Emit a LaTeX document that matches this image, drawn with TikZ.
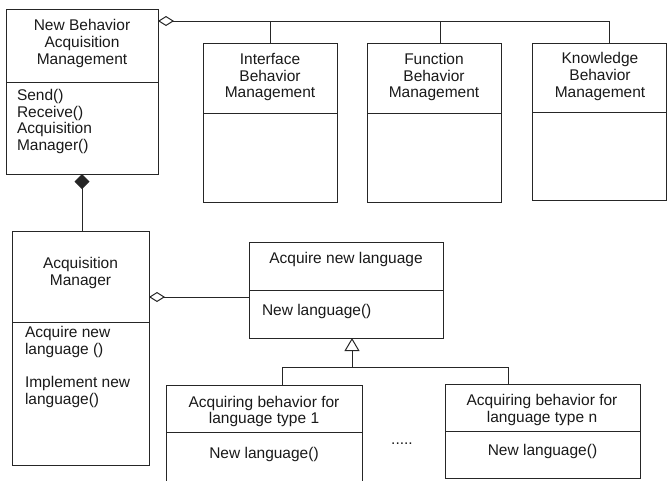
\documentclass[tikz,border=0pt]{standalone}
\usepackage{fontspec}
\setmainfont{Liberation Sans}
\usetikzlibrary{arrows.meta}

\begin{document}
\begin{tikzpicture}[x=1pt, y=-1pt,
  cls/.style={draw=black!85, line width=1pt, inner sep=0pt, outer sep=0pt},
  txt/.style={inner sep=0pt, outer sep=0pt, font=\fontsize{15.5}{16.7}\selectfont, text=black!90},
  wire/.style={draw=black!85, line width=1pt},
  aggr/.style={wire, {Diamond[open, length=16pt, width=10pt, line width=1pt]}-},
  comp/.style={wire, {Diamond[length=15pt, width=15pt]}-},
  gen/.style={wire, -{Triangle[open, length=13pt, width=15pt, line width=1pt]}}]

\clip (0,0) rectangle (667,480);

% New Behavior Acquisition Management
\node[cls, minimum width=152pt, minimum height=73pt] (nbT) at (82,45.5) {};
\node[cls, minimum width=152pt, minimum height=92pt, anchor=north] (nbB) at (nbT.south) {};
\node[txt, align=center] (nbTx) at (82,43.6) {New Behavior\\Acquisition\\Management};
\node[txt, align=left, anchor=north west] (nbBx) at (17,89.3) {Send()\\Receive()\\Acquisition\\Manager()};

% Interface / Function / Knowledge behavior management
\node[cls, minimum width=134pt, minimum height=70pt] (ibT) at (270,78) {};
\node[cls, minimum width=134pt, minimum height=89pt, anchor=north] (ibB) at (ibT.south) {};
\node[txt, align=center] (ibTx) at (270,77.1) {Interface\\Behavior\\Management};

\node[cls, minimum width=134pt, minimum height=70pt] (fbT) at (434,78) {};
\node[cls, minimum width=134pt, minimum height=89pt, anchor=north] (fbB) at (fbT.south) {};
\node[txt, align=center] (fbTx) at (434,77.1) {Function\\Behavior\\Management};

\node[cls, minimum width=134pt, minimum height=69pt] (kbT) at (599,77.5) {};
\node[cls, minimum width=134pt, minimum height=88pt, anchor=north] (kbB) at (kbT.south) {};
\node[txt, align=center] (kbTx) at (600,76.6) {Knowledge\\Behavior\\Management};

% Acquisition Manager
\node[cls, minimum width=137pt, minimum height=91pt] (amT) at (80.5,276.5) {};
\node[cls, minimum width=137pt, minimum height=143pt, anchor=north] (amB) at (amT.south) {};
\node[txt, align=center] (amTx) at (80.5,273.1) {Acquisition\\Manager};
\node[txt, align=left, anchor=north west] (amBx) at (25,326.3) {Acquire new\\language ()\\\mbox{}\\Implement new\\language()};

% Acquire new language
\node[cls, minimum width=194pt, minimum height=48pt] (anT) at (346,266) {};
\node[cls, minimum width=194pt, minimum height=48pt, anchor=north] (anB) at (anT.south) {};
\node[txt] (anTx) at (346,259.6) {Acquire new language};
\node[txt, anchor=west] (anBx) at (262,311.6) {New language()};

% Acquiring behavior for language type 1 ... n
\node[cls, minimum width=196pt, minimum height=47pt] (t1T) at (264,408.5) {};
\node[cls, minimum width=196pt, minimum height=50pt, anchor=north] (t1B) at (t1T.south) {};
\node[txt, align=center] (t1Tx) at (264,411.6) {Acquiring behavior for\\language type 1};
\node[txt] (t1Bx) at (264,454.6) {New language()};

\node[cls, minimum width=195pt, minimum height=47pt] (tnT) at (542.5,407.5) {};
\node[cls, minimum width=195pt, minimum height=47pt, anchor=north] (tnB) at (tnT.south) {};
\node[txt, align=center] (tnTx) at (542,410.1) {Acquiring behavior for\\language type n};
\node[txt] (tnBx) at (542.5,451.6) {New language()};

\node[txt, anchor=base] (dots) at (402,444) {.....};

% Aggregation bus along the top
\coordinate (busEnd) at (609,21);
\coordinate (fnDrop) at (440,21);
\draw[aggr] (nbT.east |- busEnd) -- (busEnd) -- (busEnd |- kbT.north);
\draw[wire] (ibT.north |- busEnd) -- (ibT.north);
\draw[wire] (fnDrop) -- (fnDrop |- fbT.north);

% Composition: Acquisition Manager is part of the management class
\draw[comp] (nbB.south) -- (nbB.south |- amT.north);

% Aggregation: Acquisition Manager holds Acquire new language
\coordinate (anJoin) at (249,297);
\draw[aggr] (amT.east |- anJoin) -- (anJoin);

% Generalization tree
\coordinate (gJoin) at (352,367);
\coordinate (g1) at (282,367);
\coordinate (gn) at (508,367);
\draw[gen] (gJoin) -- (gJoin |- anB.south);
\draw[wire] (g1 |- t1T.north) -- (g1) -- (gn) -- (gn |- tnT.north);

\end{tikzpicture}
\end{document}
